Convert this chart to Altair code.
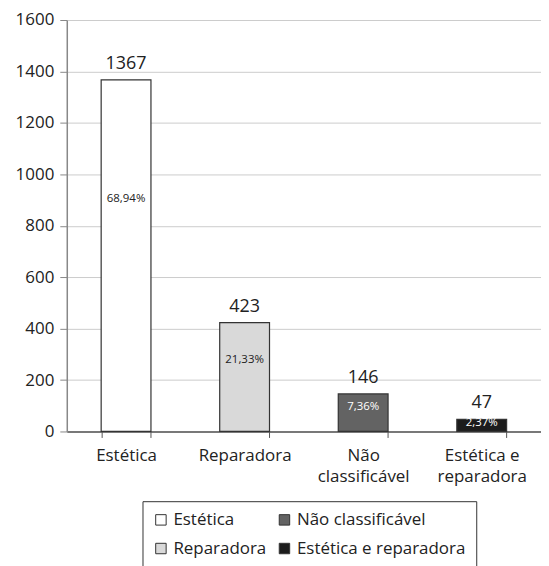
import altair as alt
import pandas as pd

categories = ["Estética", "Reparadora", "Não classificável", "Estética e reparadora"]
values = [1367, 423, 146, 47]
percents = ["68,94%", "21,33%", "7,36%", "2,37%"]
colors = ["#ffffff", "#d9d9d9", "#636363", "#1c1c1c"]
pct_text_colors = ["#222222", "#222222", "#ffffff", "#ffffff"]
y_ticks = [0, 200, 400, 600, 800, 1000, 1200, 1400, 1600]

df = pd.DataFrame({
    "cat": categories,
    "value": values,
    "pct": percents,
    "tcolor": pct_text_colors,
})

FONT = "Open Sans"

x_enc = alt.X(
    "cat:N",
    sort=categories,
    title=None,
    scale=alt.Scale(paddingInner=0.58, paddingOuter=0.29),
    axis=alt.Axis(
        labelAngle=0,
        labelFontSize=17,
        labelFont=FONT,
        labelColor="#222222",
        labelPadding=10,
        labelLineHeight=21,
        labelBaseline="top",
        tickBand="extent",
        tickSize=6,
        tickColor="#555555",
        domainColor="#555555",
        domainWidth=1.5,
        labelExpr="datum.value == 'Não classificável' ? ['Não', 'classificável'] : datum.value == 'Estética e reparadora' ? ['Estética e', 'reparadora'] : datum.value",
    ),
)

y_scale = alt.Scale(domain=[0, 1600], nice=False)

bars = alt.Chart(df).mark_bar(stroke="#333333", strokeWidth=1.2).encode(
    x=x_enc,
    y=alt.Y(
        "value:Q",
        scale=y_scale,
        title=None,
        axis=alt.Axis(
            values=y_ticks,
            format="d",
            labelFontSize=17,
            labelFont=FONT,
            labelColor="#222222",
            labelPadding=6,
            tickSize=7,
            tickColor="#888888",
            domainColor="#888888",
            domainWidth=1.5,
            grid=True,
            gridColor="#cccccc",
            gridWidth=1,
        ),
    ),
    color=alt.Color(
        "cat:N",
        scale=alt.Scale(domain=categories, range=colors),
        legend=alt.Legend(
            title=None,
            orient="none",
            legendX=76,
            legendY=483,
            columns=2,
            direction="vertical",
            labelFont=FONT,
            labelFontSize=17,
            labelColor="#222222",
            symbolType="square",
            symbolSize=110,
            symbolStrokeColor="#333333",
            symbolStrokeWidth=1,
            rowPadding=11,
            columnPadding=9,
            padding=10,
            strokeColor="#333333",
            labelLimit=300,
        ),
    ),
)

value_labels = alt.Chart(df).mark_text(
    baseline="bottom", dy=-7, fontSize=18, font=FONT, color="#222222"
).encode(
    x=alt.X("cat:N", sort=categories),
    y=alt.Y("value:Q", scale=y_scale),
    text="value:Q",
)

pct_labels = alt.Chart(df).transform_calculate(
    ypos="datum.value * 0.66"
).mark_text(baseline="middle", fontSize=11.5, font=FONT).encode(
    x=alt.X("cat:N", sort=categories),
    y=alt.Y("ypos:Q", scale=y_scale),
    text="pct:N",
    color=alt.Color("tcolor:N", scale=None),
)

chart = (bars + value_labels + pct_labels).properties(
    width=476,
    height=413,
    padding={"left": 7, "top": 2, "right": 0, "bottom": 0},
    background="white",
).configure_view(stroke=None)

chart.save("out.html", embed_options={"renderer": "svg", "actions": False})
